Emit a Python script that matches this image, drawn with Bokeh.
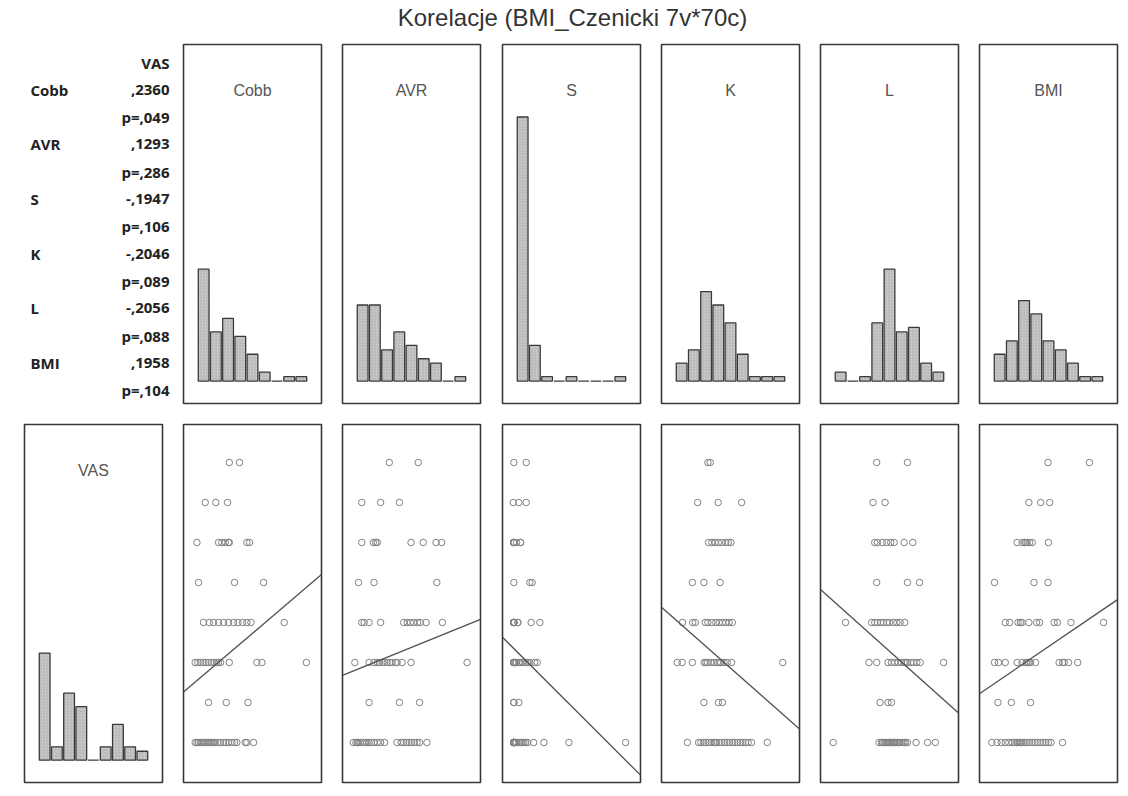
import numpy as np
from bokeh.plotting import figure
from bokeh.layouts import column, row
from bokeh.models import Range1d
from bokeh.core.properties import value
from bokeh.embed import file_html
from bokeh.resources import INLINE

# ---------------- data ----------------
title_text = "Korelacje (BMI_Czenicki 7v*70c)"
var_names = ["Cobb", "AVR", "S", "K", "L", "BMI"]
corr_r = [",2360", ",1293", "-,1947", "-,2046", "-,2056", ",1958"]
corr_p = ["p=,049", "p=,286", "p=,106", "p=,089", "p=,088", "p=,104"]

# histogram counts (9 bins each)
vas_hist = [24, 3, 15, 12, 0, 3, 8, 3, 2]
cobb_hist = [25, 11, 14, 10, 6, 2, 0, 1, 1]
avr_hist = [17, 17, 7, 11, 8, 5, 4, 0, 1]
s_hist = [59, 8, 1, 0, 1, 0, 0, 0, 1]
k_hist = [4, 7, 20, 17, 13, 6, 1, 1, 1]
l_hist = [2, 0, 1, 13, 25, 11, 12, 4, 2]
bmi_hist = [6, 9, 18, 15, 9, 7, 4, 1, 1]

# fitted lines VAS = a + b*x (x in histogram-bin units)
fit_intercept = [1.56, 1.82, 2.28, 3.07, 3.51, 1.46]
fit_slope = [0.260, 0.124, -0.305, -0.269, -0.273, 0.208]

# VAS levels 0..7, scatter x-values (in histogram-bin units 0..9) for each VAS level
vas_levels = [0, 1, 2, 3, 4, 5, 6, 7]
cobb_by_vas = [
    [-0.19, -0.05, 0.08, 0.22, 0.36, 0.49, 0.63, 0.77, 0.90, 1.04, 1.17, 1.31, 1.45, 1.67, 1.86, 2.13, 2.32, 2.54, 2.81, 3.03, 3.22, 3.91, 4.04, 4.59],
    [0.90, 2.35, 4.13],
    [-0.19, 0.03, 0.25, 0.46, 0.68, 0.90, 1.12, 1.34, 1.56, 1.72, 1.89, 2.60, 4.86, 5.27, 8.91],
    [0.49, 0.96, 1.31, 1.72, 2.13, 2.54, 2.95, 3.31, 3.69, 4.04, 4.37, 7.10],
    [0.08, 3.03, 5.41],
    [-0.05, 1.72, 1.99, 2.27, 2.54, 2.60, 4.04, 4.26],
    [0.63, 1.50, 2.46],
    [2.60, 3.44],
]
avr_by_vas = [
    [-0.27, -0.05, 0.08, 0.14, 0.30, 0.49, 0.68, 0.84, 1.03, 1.22, 1.43, 1.70, 1.97, 2.30, 3.32, 3.65, 3.86, 4.08, 4.30, 4.51, 4.73, 4.95, 5.16, 5.76],
    [1.03, 3.51, 5.16],
    [-0.14, 1.03, 1.43, 1.70, 1.89, 2.11, 2.30, 2.51, 2.73, 2.92, 3.19, 3.32, 3.73, 4.46, 9.05],
    [0.43, 0.62, 1.03, 1.97, 3.86, 4.14, 4.41, 4.68, 5.00, 5.22, 5.70, 7.03],
    [0.16, 1.43, 6.57],
    [0.43, 1.38, 1.57, 1.70, 4.46, 5.46, 6.51, 6.97],
    [0.43, 1.97, 3.51],
    [2.68, 5.05],
]
s_by_vas = [
    [-0.22, -0.22, -0.22, -0.22, -0.22, -0.22, -0.22, -0.22, -0.22, -0.22, -0.22, -0.22, -0.10, 0.0, 0.19, 0.30, 0.45, 0.60, 0.74, 0.90, 1.40, 2.24, 4.29, 8.93],
    [-0.22, -0.22, 0.19],
    [-0.22, -0.22, -0.22, -0.22, -0.22, -0.10, 0.0, 0.19, 0.30, 0.50, 0.74, 0.90, 1.09, 1.48, 1.69],
    [-0.22, -0.22, -0.22, -0.22, -0.22, -0.22, -0.22, -0.22, 0.11, 0.11, 1.20, 1.91],
    [-0.22, 1.09, 1.28],
    [-0.22, -0.22, -0.22, -0.22, -0.22, 0.0, 0.33, 0.33],
    [-0.27, 0.19, 0.79],
    [-0.22, 0.79],
]
k_by_vas = [
    [0.97, 1.89, 2.08, 2.30, 2.49, 2.70, 2.92, 3.14, 3.24, 3.35, 3.57, 3.78, 4.00, 4.22, 4.43, 4.65, 4.86, 5.08, 5.30, 5.51, 5.73, 5.95, 6.22, 7.51],
    [2.32, 3.51, 3.84],
    [0.14, 0.54, 1.38, 2.35, 2.49, 2.62, 2.89, 3.16, 3.43, 3.57, 3.70, 3.97, 4.24, 4.59, 8.78],
    [0.57, 1.41, 1.62, 2.43, 2.65, 2.97, 3.30, 3.57, 3.84, 4.11, 4.38, 4.65],
    [1.38, 2.32, 3.65],
    [2.70, 2.97, 3.24, 3.51, 3.78, 4.11, 4.32, 4.54],
    [1.81, 3.49, 5.41],
    [2.65, 2.84],
]
l_by_vas = [
    [-0.11, 3.64, 3.84, 3.92, 4.05, 4.19, 4.27, 4.38, 4.49, 4.60, 4.71, 4.82, 4.93, 5.01, 5.15, 5.29, 5.37, 5.59, 5.70, 5.81, 5.97, 6.68, 7.62, 8.25],
    [3.73, 4.38, 4.66],
    [2.82, 3.45, 4.38, 4.66, 4.93, 5.21, 5.48, 5.70, 5.84, 5.97, 6.25, 6.47, 6.74, 7.01, 8.93],
    [0.90, 3.04, 3.29, 3.51, 3.78, 4.00, 4.27, 4.49, 4.82, 5.10, 5.37, 5.75],
    [3.45, 5.97, 6.96],
    [3.29, 3.51, 3.92, 4.27, 4.60, 4.88, 5.70, 6.41],
    [3.15, 4.14],
    [3.45, 5.97],
]
bmi_by_vas = [
    [-0.14, 0.28, 0.63, 0.96, 1.24, 1.52, 1.74, 1.90, 1.96, 2.12, 2.23, 2.34, 2.56, 2.75, 2.95, 3.17, 3.39, 3.61, 3.83, 4.05, 4.27, 4.49, 4.71, 5.65],
    [0.36, 1.46, 3.03],
    [0.08, 0.41, 0.96, 1.93, 2.34, 2.67, 2.75, 2.89, 3.03, 3.44, 5.37, 5.65, 5.79, 6.14, 6.89],
    [0.96, 1.32, 2.01, 2.20, 2.34, 2.89, 3.53, 3.77, 4.96, 5.23, 6.34, 9.01],
    [0.08, 3.31, 4.46],
    [1.93, 2.34, 2.56, 2.62, 2.75, 2.95, 3.17, 4.49],
    [2.89, 3.86, 4.60],
    [4.46, 7.85],
]

# ---------------- styling / layout ----------------
FONT = "Liberation Sans"
BOLD_FONT = "Open Sans"
FRAME_W = 138
TOP_H = 359
BOT_H = 358
frame_lefts = [24, 183, 342, 502, 661, 820, 979]
PAGE_M = 0

borders_r = []
for i in range(7):
    if i < 6:
        borders_r.append((frame_lefts[i + 1] - frame_lefts[i] - FRAME_W) // 2)
    else:
        borders_r.append(2)
borders_l = []
for i in range(7):
    start = PAGE_M if i == 0 else frame_lefts[i - 1] + FRAME_W + borders_r[i - 1]
    borders_l.append(frame_lefts[i] - start)

hist_x = (-1.15, 10.15)
hist_y = (-5.0, 75.2)
scat_y = (-1.0, 7.95)
bin_centers = [b + 0.5 for b in range(9)]


def base_fig(i, frame_h, top_b, bot_b, xr, yr, frame_w=FRAME_W, outline=True, rb=None):
    p = figure(frame_width=frame_w, frame_height=frame_h,
               min_border_left=borders_l[i],
               min_border_right=borders_r[i] if rb is None else rb,
               min_border_top=top_b, min_border_bottom=bot_b,
               x_range=xr, y_range=yr,
               x_axis_location=None, y_axis_location=None,
               toolbar_location=None, output_backend="svg")
    p.grid.visible = False
    p.background_fill_color = "white"
    p.border_fill_color = "white"
    if outline:
        p.outline_line_color = "#383838"
        p.outline_line_width = 1.6
    else:
        p.outline_line_color = None
    return p


def hist_fig(i, counts, name, frame_h, top_b, bot_b):
    p = base_fig(i, frame_h, top_b, bot_b, Range1d(*hist_x), Range1d(*hist_y))
    p.vbar(x=bin_centers, top=counts, bottom=0, width=0.88,
           fill_color="#d2d2d2", line_color="#3a3a3a", line_width=1.3,
           hatch_pattern="/", hatch_color="#9a9a9a", hatch_scale=3, hatch_weight=0.6)
    p.text(x=[4.5], y=[65], text=[name], text_align="center", text_baseline="middle",
           text_font=value(FONT), text_font_size="16px", text_color="#555555")
    return p


def scatter_fig(i, by_vas, a, b):
    xs, ys = [], []
    for lev, vals in zip(vas_levels, by_vas):
        xs.extend(vals)
        ys.extend([lev] * len(vals))
    xr = Range1d(*hist_x)
    p = base_fig(i, BOT_H, 3, 3, xr, Range1d(*scat_y))
    p.scatter(x=xs, y=ys, size=6.5, marker="circle", fill_color=None,
              line_color="#808080", line_width=1)
    lx = [hist_x[0], hist_x[1]]
    p.line(x=lx, y=[a + b * lx[0], a + b * lx[1]], line_color="#505050", line_width=1.3)
    return p


# title
tp = figure(frame_width=1120, frame_height=41, min_border=0,
            x_range=Range1d(0, 1120), y_range=Range1d(0, 41),
            x_axis_location=None, y_axis_location=None,
            toolbar_location=None, output_backend="svg")
tp.grid.visible = False
tp.outline_line_color = None
tp.text(x=[572], y=[24], text=[title_text], text_align="center", text_baseline="alphabetic",
        text_font=value(FONT), text_font_size="24px", text_color="#333333")

# top row: text panel + histograms
txt = base_fig(0, TOP_H, 3, 18, Range1d(0, 148), Range1d(TOP_H, 0),
               frame_w=148, outline=False, rb=0)
row_step = 27.3
labels_l, labels_r = [""], ["VAS"]
for n, r, pv in zip(var_names, corr_r, corr_p):
    labels_l += [n, ""]
    labels_r += [r, pv]
ys = [18 + row_step * k for k in range(len(labels_r))]
txt.text(x=[6] * len(ys), y=ys, text=labels_l, text_align="left", text_baseline="middle",
         text_font=value(BOLD_FONT), text_font_style="bold", text_font_size="15px", text_color="#222222")
txt.text(x=[145] * len(ys), y=ys, text=labels_r, text_align="right", text_baseline="middle",
         text_font=value(BOLD_FONT), text_font_style="bold", text_font_size="15px", text_color="#222222")

hists = [cobb_hist, avr_hist, s_hist, k_hist, l_hist, bmi_hist]
top_figs = [txt] + [hist_fig(i + 1, h, n, TOP_H, 3, 18) for i, (h, n) in enumerate(zip(hists, var_names))]

# bottom row: VAS histogram + scatter plots
vas_fig = hist_fig(0, vas_hist, "VAS", BOT_H, 3, 3)
scats = [cobb_by_vas, avr_by_vas, s_by_vas, k_by_vas, l_by_vas, bmi_by_vas]
bot_figs = [vas_fig] + [scatter_fig(i + 1, s, a, b)
                        for i, (s, a, b) in enumerate(zip(scats, fit_intercept, fit_slope))]

layout = column(tp, row(*top_figs, spacing=0), row(*bot_figs, spacing=0), spacing=0)

open("out.html", "w").write(file_html(layout, INLINE))
